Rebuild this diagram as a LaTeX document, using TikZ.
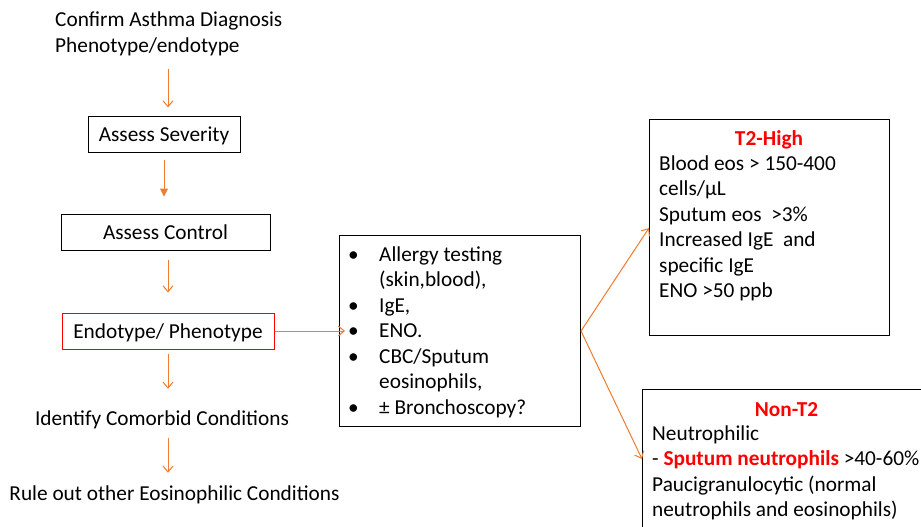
\documentclass[tikz,border=0pt]{standalone}
\usepackage{fontspec}
\setmainfont{Carlito}
\usetikzlibrary{arrows.meta,calc}
\definecolor{arrorange}{HTML}{ED7D31}
\definecolor{boxred}{HTML}{FF0000}
\newcommand\lbul{\makebox[31pt][l]{•}}
\newcommand\lind{\hspace*{31pt}}
\begin{document}
\begin{tikzpicture}[x=1pt,y=-1pt,
  every node/.style={font=\fontsize{21.3}{25.5}\selectfont, inner sep=0pt},
  box/.style={draw=black, line width=1pt},
  redbox/.style={draw=boxred, line width=1pt},
  boxtext/.style={text height=15pt, text depth=0pt},
  multi/.style={anchor=base west, align=flush left},
  arr/.style={draw=arrorange, line width=1pt, -{Straight Barb[length=6pt,width=10pt]}},
  arrfill/.style={draw=arrorange, line width=1pt, -{Triangle[length=8pt,width=8pt]}},
  plain/.style={text height=15pt, text depth=5pt},
  ttl/.style={font=\fontsize{21.3}{25.5}\selectfont\bfseries, text=boxred}
]
\fill[white] (0,0) rectangle (921,527);
\clip (0,0) rectangle (921,527);

% left column
\node[multi, text width=240pt] (diag) at (55,27) {Confirm Asthma Diagnosis\\Phenotype/endotype};
\node[box, boxtext, minimum width=152pt, minimum height=36pt] (sev) at (164,134) {Assess Severity};
\node[box, boxtext, minimum width=209pt, minimum height=36pt] (ctrl) at (165.5,232) {Assess Control};
\node[redbox, boxtext, minimum width=212pt, minimum height=36pt] (endo) at (168,331) {Endotype/ Phenotype};
\node[plain, anchor=base] (ident) at (162,425) {Identify Comorbid Conditions};
\node[plain, anchor=base] (rule) at (174.5,500) {Rule out other Eosinophilic Conditions};

% middle list
\node[box, anchor=north west, minimum width=241pt, minimum height=191pt] (list) at (339,235) {};
\node[multi, text width=225pt] (listtxt) at (348,261)
  {\lbul Allergy testing\\\lind(skin,blood),\\\lbul IgE,\\\lbul ENO.\\\lbul CBC/Sputum\\\lind eosinophils,\\\lbul ± Bronchoscopy?};

% right boxes
\node[box, anchor=north west, minimum width=240pt, minimum height=216pt] (t2) at (649,119) {};
\node[ttl, anchor=base] (t2title) at (769,145) {T2-High};
\node[multi, text width=225pt] (t2txt) at (659,170)
  {Blood eos > 150-400\\cells/μL\\Sputum eos\ \ >3\%\\Increased IgE\ \ and\\specific IgE\\ENO >50 ppb};

\node[box, anchor=north west, minimum width=300pt, minimum height=160pt] (nont2) at (642,389) {};
\node[ttl, anchor=base] (nont2title) at (786.5,416) {Non-T2};
\node[multi, text width=290pt] (nont2txt) at (652,440)
  {Neutrophilic\\- {\bfseries\color{boxred}Sputum neutrophils} >40-60\%\\Paucigranulocytic (normal\\neutrophils and eosinophils)};

% connectors
\draw[arr, shorten <=13pt, shorten >=8pt] (endo.north |- diag.south) -- (endo.north |- sev.north);
\draw[arrfill, shorten <=7pt, shorten >=17pt] (sev.south) -- (sev.south |- ctrl.north);
\draw[arr, shorten <=9pt, shorten >=20pt] (endo.north |- ctrl.south) -- (endo.north);
\draw[arr, shorten <=4pt, shorten >=21pt] (endo.south) -- (endo.south |- ident.north);
\draw[arr, shorten <=8pt, shorten >=12pt] (endo.south |- ident.south) -- (endo.south |- rule.north);
\draw[arr] (endo.east) -- ($(list.west |- endo.east)+(6,0)$);
\draw[arr] (list.east) -- ($(t2.north west)+(0,109)$);
\draw[arr] (list.east) -- ($(nont2.north west)+(0,70)$);
\end{tikzpicture}
\end{document}
